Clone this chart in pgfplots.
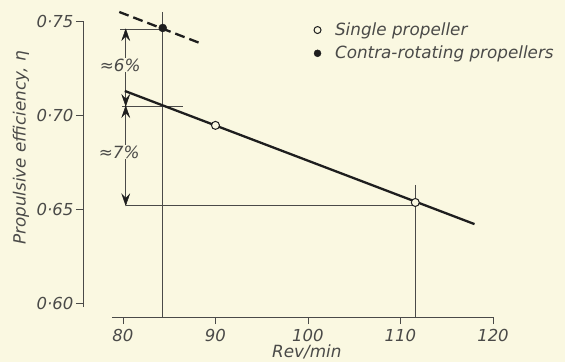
\documentclass[border=0pt]{standalone}
\usepackage{pgfplots}
\pgfplotsset{compat=1.18}
\usepackage{fontspec}
\setmainfont{DejaVu Sans}[ItalicFont={DejaVu Sans Oblique}]
\definecolor{bg}{HTML}{FAF8E1}
\definecolor{ink}{HTML}{1E1E1E}
\definecolor{thinink}{HTML}{4A4A48}
\newcommand\lf{\fontsize{16.8}{19}\selectfont\itshape}
\pgfdeclareplotmark{tipup}{%
  \pgfpathmoveto{\pgfpoint{0pt}{0pt}}%
  \pgfpathlineto{\pgfpoint{3.8pt}{-11pt}}%
  \pgfpathlineto{\pgfpoint{0pt}{-7pt}}%
  \pgfpathlineto{\pgfpoint{-3.8pt}{-11pt}}%
  \pgfpathclose
  \pgfusepathqfillstroke}
\pgfdeclareplotmark{tipdown}{%
  \pgfpathmoveto{\pgfpoint{0pt}{0pt}}%
  \pgfpathlineto{\pgfpoint{3.8pt}{11pt}}%
  \pgfpathlineto{\pgfpoint{0pt}{7pt}}%
  \pgfpathlineto{\pgfpoint{-3.8pt}{11pt}}%
  \pgfpathclose
  \pgfusepathqfillstroke}
\begin{document}
\begin{tikzpicture}
\useasboundingbox (-83pt,-45pt) rectangle (482pt,317pt);
\fill[bg] (-83pt,-45pt) rectangle (482pt,317pt);
\begin{axis}[
  scale only axis, width=410pt, height=296pt,
  xmin=75.68, xmax=120, ymin=0.5926, ymax=0.75,
  clip=false,
  axis line style={draw=none},
  tick pos=left, tick align=outside,
  major tick length=7pt,
  tick style={thinink, line width=0.8pt},
  xtick={80,90,100,110,120},
  xticklabels={80,90,100,110,120},
  ytick={0.60,0.65,0.70,0.75},
  yticklabels={0·60,0·65,0·70,0·75},
  ticklabel style={font=\fontsize{16.5}{19}\selectfont\itshape, text=thinink},
  yticklabel style={xshift=1pt},
  xticklabel style={yshift=-2pt},
  xlabel={Rev/min},
  ylabel={Propulsive efficiency, η},
  label style={font=\lf, text=thinink},
  xlabel style={at={(axis description cs:0.546,-0.118)}, anchor=center},
  ylabel style={at={(axis description cs:-0.151,0.571)}, anchor=center},
  legend style={at={(axis description cs:0.563,1.001)}, anchor=north west,
    draw=none, fill=none, inner sep=0pt, row sep=5pt, column sep=12pt,
    nodes={inner sep=2pt}, font=\lf, text=thinink},
  legend image post style={mark size=3.5pt},
  legend cell align=left,
]
% axis lines (detached)
\draw[thinink, line width=0.9pt] (axis cs:78.8,0.5926) -- (axis cs:120,0.5926);
\draw[thinink, line width=0.9pt] (axis cs:75.68,0.5979) -- (axis cs:75.68,0.75);
% reference lines
\addplot[forget plot, thinink, line width=0.8pt] coordinates {(84.3,0.7548) (84.3,0.5926)};
\addplot[forget plot, thinink, line width=0.8pt] coordinates {(111.6,0.6628) (111.6,0.5926)};
\addplot[forget plot, thinink, line width=0.8pt] coordinates {(80.3,0.652) (111.6,0.652)};
\addplot[forget plot, thinink, line width=0.8pt] coordinates {(79.9,0.7048) (86.5,0.7048)};
\addplot[forget plot, thinink, line width=0.8pt] coordinates {(79.7,0.7457) (84.3,0.7457)};
% dimension lines with arrow heads
\addplot[forget plot, thinink, line width=0.8pt] coordinates {(80.3,0.7457) (80.3,0.652)};
\addplot[forget plot, only marks, mark=tipup, ink, mark options={fill=ink, draw=ink, line width=0.5pt}]
  coordinates {(80.3,0.7457) (80.3,0.7048)};
\addplot[forget plot, only marks, mark=tipdown, ink, mark options={fill=ink, draw=ink, line width=0.5pt}]
  coordinates {(80.3,0.7048) (80.3,0.652)};
\node[fill=bg, inner sep=1pt, font=\lf, text=thinink] at (axis cs:79.7,0.7266) {≈6\%};
\node[fill=bg, inner sep=1pt, font=\lf, text=thinink] at (axis cs:79.6,0.6803) {≈7\%};
% main curves
\addplot[forget plot, ink, line width=2.3pt] coordinates {(80.2,0.7128) (118,0.6420)};
\addplot[forget plot, ink, line width=2.3pt, dash pattern=on 10pt off 5pt] coordinates {(79.6,0.7548) (88.3,0.7383)};
% points
\addplot[only marks, mark=*, mark size=4pt, mark options={fill=bg, draw=ink, line width=1pt}]
  coordinates {(90,0.6945) (111.6,0.6535)};
\addlegendentry{Single propeller}
\addplot[only marks, mark=*, mark size=4pt, ink, mark options={fill=ink}]
  coordinates {(84.3,0.7463)};
\addlegendentry{Contra-rotating propellers}
\end{axis}
\end{tikzpicture}
\end{document}
